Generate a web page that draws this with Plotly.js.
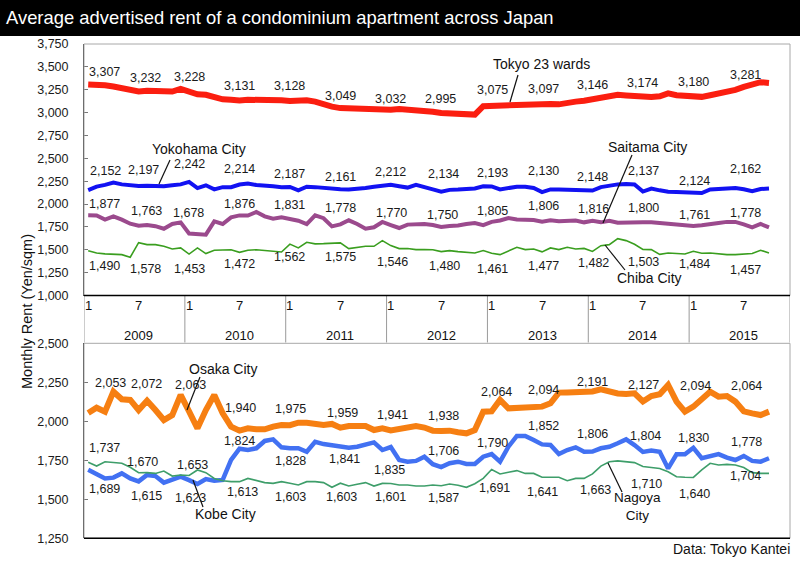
<!DOCTYPE html>
<html><head><meta charset="utf-8">
<script src="https://cdn.plot.ly/plotly-3.0.1.min.js"></script>
<style>html,body{margin:0;padding:0;background:#fff}#chart{width:800px;height:561px}</style>
</head><body><div id="chart"></div>
<script>
// ---------------- DATA (monthly, Jan 2009 .. Oct 2015) ----------------
const years = ['2009','2010','2011','2012','2013','2014','2015'];
const monthTicks = ['1','7'];
const tokyo = [3307,3306,3298,3285,3270,3255,3232,3240,3238,3230,3230,3258,3228,3200,3195,3165,3145,3140,3131,3140,3142,3138,3136,3135,3128,3138,3135,3120,3090,3065,3049,3045,3046,3040,3025,3030,3032,3038,3035,3028,3020,3010,2995,2992,2982,2975,2978,3070,3075,3078,3085,3090,3095,3097,3097,3095,3090,3110,3120,3130,3146,3160,3180,3195,3188,3180,3174,3170,3178,3210,3190,3182,3180,3172,3190,3205,3230,3248,3281,3310,3332,3324];
const yokohama = [2152,2190,2210,2235,2215,2205,2197,2200,2198,2195,2205,2215,2242,2175,2205,2160,2185,2185,2214,2225,2208,2205,2195,2185,2187,2150,2190,2185,2175,2165,2161,2160,2165,2175,2190,2200,2212,2195,2180,2210,2180,2160,2134,2155,2158,2160,2170,2195,2193,2160,2180,2190,2190,2175,2130,2160,2158,2155,2155,2160,2148,2185,2205,2215,2220,2215,2137,2170,2150,2135,2132,2130,2124,2120,2160,2165,2165,2175,2162,2140,2165,2170];
const saitama = [1877,1875,1830,1866,1830,1785,1763,1770,1758,1730,1782,1800,1678,1672,1665,1810,1782,1855,1876,1875,1913,1866,1840,1855,1831,1818,1780,1876,1845,1756,1778,1822,1782,1731,1746,1804,1770,1738,1775,1782,1782,1770,1750,1760,1765,1782,1793,1770,1805,1820,1847,1830,1829,1825,1806,1822,1811,1815,1820,1800,1816,1800,1818,1795,1800,1805,1800,1800,1790,1780,1778,1765,1761,1768,1775,1793,1805,1805,1778,1745,1782,1745];
const chiba = [1490,1465,1455,1455,1447,1418,1578,1556,1556,1538,1509,1520,1453,1520,1458,1495,1500,1500,1472,1495,1500,1490,1480,1476,1562,1520,1582,1565,1567,1570,1575,1513,1525,1538,1538,1600,1546,1513,1513,1502,1502,1500,1480,1491,1480,1473,1465,1491,1461,1447,1484,1527,1502,1509,1477,1520,1502,1527,1509,1515,1482,1545,1556,1622,1600,1560,1503,1502,1450,1465,1460,1454,1484,1462,1465,1455,1447,1447,1457,1460,1495,1465];
const osaka = [2053,2087,2062,2190,2141,2137,2072,2132,2072,2008,2040,2169,2063,1955,2072,2169,2051,1966,1940,1955,1949,1949,1966,1976,1975,1991,1991,1983,1976,1983,1959,1970,1970,1970,1944,1955,1941,1949,1955,1970,1960,1940,1938,1940,1930,1923,1944,2062,2064,2137,2083,2086,2090,2092,2094,2115,2184,2185,2186,2190,2191,2205,2190,2178,2175,2179,2127,2162,2173,2233,2126,2062,2094,2147,2190,2158,2162,2126,2064,2051,2040,2062];
const kobe = [1689,1660,1634,1639,1666,1634,1615,1656,1649,1607,1624,1645,1623,1598,1630,1619,1624,1752,1824,1816,1827,1874,1884,1833,1828,1827,1805,1869,1854,1848,1841,1830,1837,1848,1865,1816,1835,1752,1741,1746,1773,1725,1706,1731,1741,1726,1726,1773,1790,1741,1837,1906,1906,1880,1852,1848,1790,1816,1833,1805,1806,1827,1837,1859,1884,1848,1804,1812,1805,1698,1788,1788,1830,1763,1773,1790,1767,1752,1778,1746,1741,1763];
const nagoya = [1737,1713,1741,1735,1731,1705,1670,1671,1666,1681,1649,1656,1653,1688,1671,1634,1619,1613,1613,1634,1619,1607,1602,1613,1603,1592,1613,1613,1607,1577,1603,1585,1596,1607,1585,1602,1601,1592,1592,1585,1585,1592,1587,1598,1590,1577,1600,1634,1691,1662,1673,1684,1666,1666,1641,1639,1641,1619,1634,1634,1663,1713,1741,1746,1741,1735,1710,1703,1698,1677,1645,1641,1640,1688,1731,1720,1724,1720,1704,1671,1666,1666];
const labelIdx = [0,6,12,18,24,30,36,42,48,54,60,66,72,78];

// ---------------- LAYOUT HELPERS ----------------
const W = 800, H = 561;
const PX = x => x / W, PY = y => 1 - y / H;
const FONT = 'Liberation Sans, Arial, sans-serif';
const monthIdx = tokyo.map((_, i) => i);
const nCat = years.length * 12;
const xRange = [-0.5, nCat - 0.5];

// label offsets (screen px: dx right, dy down) per labelled month
const offs = {
  tokyo:   [[16,-13],[7,-13],[0,-15],[0,-15],[0,-15],[0,-12],[0,-11],[-1,-14],[1,-16],[1,-15],[0,-14],[0,-13.5],[0,-14],[2,-12]],
  yokohama:[[17,-19],[5,-16],[0,-18],[0,-15.5],[0,-13],[0,-12],[0,-12.3],[2,-18],[1,-13],[1,-21],[0,-14],[1,-21],[1,-12],[2,-20]],
  saitama: [[16,-11],[8,-15],[-1,-20],[0,-11],[0,-14],[0,-16],[1,-12],[1,-12],[1,-10.5],[1,-16],[1,-12],[1,-14],[1,-11],[2,-11]],
  chiba:   [[16,15.6],[7,26],[0,14.5],[0,12],[0,13],[0,14],[2,16],[3,14],[1,15.5],[1,14],[1,12],[1,12],[1,13],[2,16]],
  osaka:   [[22,-30],[7.5,-26],[1,-26.5],[1.5,-23],[1,-16],[2,-15],[2,-16],[2.5,-15],[4.5,-19],[1,-16.6],[0,-10],[1,-16.5],[2.5,-20.6],[3,-25]],
  kobe:    [[16.5,19],[7.5,14.6],[1,18],[0,-8],[1,13],[4,13],[-1,23],[2.5,-16.5],[1,-11],[1,-18.4],[0,-18],[3,-16],[0,-9.5],[3,-14]],
  nagoya:  [[16,-14],[4,-11],[3,-10.4],[3,10],[1,13.5],[1,13.5],[0,13],[2.5,12.6],[2.6,18],[0,15],[3,16],[3.5,17],[1,17],[2,8.5]]
};

const series = [
  {name:'Tokyo 23 wards', y:tokyo,    key:'tokyo',    ax:'x',  ay:'y',  color:'#fb1e10', width:6},
  {name:'Yokohama City',  y:yokohama, key:'yokohama', ax:'x',  ay:'y',  color:'#1212f2', width:4},
  {name:'Saitama City',   y:saitama,  key:'saitama',  ax:'x',  ay:'y',  color:'#9b4a8d', width:4},
  {name:'Chiba City',     y:chiba,    key:'chiba',    ax:'x',  ay:'y',  color:'#3a9e1f', width:1.6},
  {name:'Osaka City',     y:osaka,    key:'osaka',    ax:'x2', ay:'y2', color:'#f67f12', width:6},
  {name:'Kobe City',      y:kobe,     key:'kobe',     ax:'x2', ay:'y2', color:'#4271f2', width:4.5},
  {name:'Nagoya City',    y:nagoya,   key:'nagoya',   ax:'x2', ay:'y2', color:'#3e9e6a', width:1.6}
];

const traces = series.map(s => ({
  type:'scatter', mode:'lines', x: monthIdx, y: s.y, name: s.name,
  xaxis: s.ax, yaxis: s.ay,
  line:{color:s.color, width:s.width, shape:'linear'},
  hoverinfo:'skip', showlegend:false
}));

const fmt = v => v.toLocaleString('en-US');
const annotations = [];
series.forEach(s => {
  labelIdx.forEach((idx, k) => {
    const o = offs[s.key][k];
    annotations.push({xref:s.ax, yref:s.ay, x:idx, y:s.y[idx], text:fmt(s.y[idx]),
      showarrow:false, xshift:o[0], yshift:-o[1], xanchor:'center', yanchor:'middle',
      font:{family:FONT, size:12.5, color:'#1a1a1a'}});
  });
});

// Series name labels (pixel positions) and leader lines
const names = [
  {t:'Tokyo 23 wards', x:541, y:64, s:14, line:[518,75,510,102]},
  {t:'Yokohama City',  x:199, y:149, s:14, line:[170,160,159,184]},
  {t:'Saitama City',   x:647, y:147, s:14, line:[632,155,603,223]},
  {t:'Chiba City',     x:649, y:278, s:14, line:[625,270,605,245]},
  {t:'Osaka City',     x:223, y:369, s:14, line:[200,377,187,410]},
  {t:'Kobe City',      x:226, y:514, s:14, line:[203,507,193,480]},
  {t:'Nagoya<br>City', x:637, y:506, s:13.5, line:[622,492,608,463]}
];
const shapes = [];
names.forEach(n => {
  annotations.push({xref:'paper', yref:'paper', x:PX(n.x), y:PY(n.y), text:n.t, showarrow:false,
    xanchor:'center', yanchor:'middle', font:{family:FONT, size:n.s, color:'#111'}});
  if (n.line) shapes.push({type:'line', xref:'paper', yref:'paper',
    x0:PX(n.line[0]), y0:PY(n.line[1]), x1:PX(n.line[2]), y1:PY(n.line[3]), line:{color:'#111', width:1.2}});
});

// Category band: month ticks and year labels
years.forEach((yr, k) => {
  annotations.push({xref:'x', yref:'paper', x:12*k, y:PY(305), text:monthTicks[0], showarrow:false,
    xanchor:'center', yanchor:'middle', font:{family:FONT, size:13, color:'#111'}});
  annotations.push({xref:'x', yref:'paper', x:12*k+6, y:PY(305), text:monthTicks[1], showarrow:false,
    xanchor:'center', yanchor:'middle', font:{family:FONT, size:13, color:'#111'}});
  annotations.push({xref:'x', yref:'paper', x:12*k+6, y:PY(335), text:yr, showarrow:false,
    xanchor:'center', yanchor:'middle', font:{family:FONT, size:13, color:'#111'}});
});
for (let k = 0; k <= years.length; k++) {
  shapes.push({type:'line', xref:'x', yref:'paper', x0:12*k-0.5, x1:12*k-0.5, y0:PY(342.5), y1:PY(295.5),
    line:{color:'#9a9a9a', width:1}});
}

// Title bar
shapes.push({type:'rect', xref:'paper', yref:'paper', x0:0, x1:1, y0:PY(36), y1:1, fillcolor:'#000', line:{width:0}, layer:'below'});
// Frames
const TOP0 = 44, TOP1 = 295.5, BOT0 = 343.3, BOT1 = 538.3, L = 84, R = 790;
shapes.push({type:'rect', xref:'paper', yref:'paper', x0:PX(L), x1:PX(R), y0:PY(TOP1), y1:PY(TOP0), line:{color:'#a8a8a8', width:1}});
shapes.push({type:'rect', xref:'paper', yref:'paper', x0:PX(L), x1:PX(R), y0:PY(BOT1), y1:PY(BOT0), line:{color:'#a8a8a8', width:1}});
shapes.push({type:'line', xref:'paper', yref:'paper', x0:PX(L), x1:PX(R), y0:PY(TOP1), y1:PY(TOP1), line:{color:'#000', width:1.5}});
shapes.push({type:'line', xref:'paper', yref:'paper', x0:PX(L), x1:PX(R), y0:PY(BOT1), y1:PY(BOT1), line:{color:'#000', width:1.5}});

// Axis title and source
annotations.push({xref:'paper', yref:'paper', x:PX(27), y:PY(312), text:'Monthly Rent (Yen/sqm)', textangle:-90,
  showarrow:false, xanchor:'center', yanchor:'middle', font:{family:FONT, size:14.5, color:'#111'}});
annotations.push({xref:'paper', yref:'paper', x:PX(792), y:PY(549), text:'Data: Tokyo Kantei',
  showarrow:false, xanchor:'right', yanchor:'middle', font:{family:FONT, size:14, color:'#111'}});

const yTicksTop = [1000,1250,1500,1750,2000,2250,2500,2750,3000,3250,3500,3750];
const yTicksBot = [1250,1500,1750,2000,2250,2500];
const yAxisBase = {showgrid:false, zeroline:false, showline:true, linecolor:'#333', linewidth:1,
  ticks:'inside', ticklen:4, tickcolor:'#777', tickformat:',d', ticklabelstandoff:12,
  tickfont:{family:FONT, size:12.5, color:'#1a1a1a'}, fixedrange:true};
const xAxisBase = {range:xRange, showgrid:false, zeroline:false, showline:false, showticklabels:false, ticks:'', fixedrange:true,
  domain:[PX(L), PX(R)]};

const layout = {
  width:W, height:H, margin:{l:0, r:0, t:0, b:0}, paper_bgcolor:'#fff', plot_bgcolor:'rgba(0,0,0,0)',
  title:{text:'Average advertised rent of a condominium apartment across Japan', x:PX(6), xanchor:'left',
    y:PY(18), yanchor:'middle', font:{family:FONT, size:18.4, color:'#fff'}},
  xaxis: Object.assign({}, xAxisBase, {anchor:'y'}),
  xaxis2: Object.assign({}, xAxisBase, {anchor:'y2'}),
  yaxis: Object.assign({}, yAxisBase, {domain:[PY(TOP1), PY(TOP0)], range:[1000, 3750], tickvals:yTicksTop, anchor:'x'}),
  yaxis2: Object.assign({}, yAxisBase, {domain:[PY(BOT1), PY(BOT0)], range:[1250, 2500], tickvals:yTicksBot, anchor:'x2'}),
  shapes: shapes, annotations: annotations, showlegend:false
};

Plotly.newPlot('chart', traces, layout, {displayModeBar:false, staticPlot:true});
</script>
</body></html>
